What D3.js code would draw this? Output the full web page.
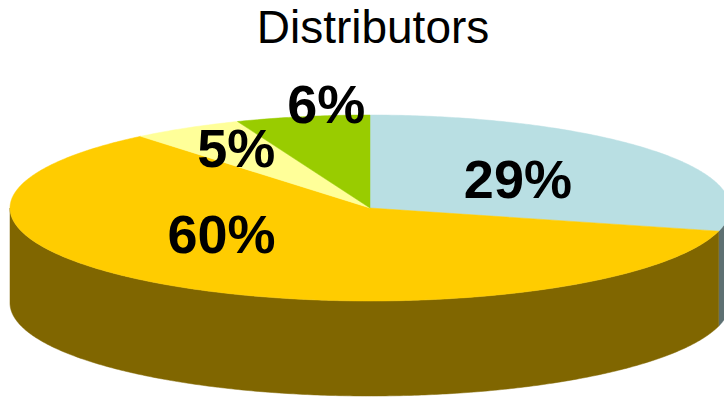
<!DOCTYPE html>
<html>
<head>
<meta charset="utf-8">
<script src="https://cdn.jsdelivr.net/npm/d3@7"></script>
<style>
  html, body { margin: 0; padding: 0; background: #ffffff; }
  svg { display: block; }
</style>
</head>
<body>
<svg id="chart" width="724" height="399"></svg>
<script>
// Share of distributors by group, clockwise from 12 o'clock
const categories = ["A", "B", "C", "D"];
const values = [29, 60, 5, 6];
const labels = ["29%", "60%", "5%", "6%"];
const colors = ["#b9dfe3", "#ffcc00", "#ffff99", "#99cc00"];
const title = "Distributors";

const cx = 370, cy = 208, rx = 360, ry = 93, depth = 95;

const svg = d3.select("#chart");

svg.append("text")
  .attr("x", 373).attr("y", 43)
  .attr("text-anchor", "middle")
  .attr("font-family", "Liberation Sans, Arial, sans-serif")
  .attr("font-size", 46)
  .attr("fill", "#000")
  .text(title);

const pie = d3.pie().sort(null).value(d => d)
  .startAngle(0).endAngle(2 * Math.PI);
const arcs = pie(values);

// point on the ellipse for an angle measured clockwise from 12 o'clock
const pt = (a, dy = 0) => [cx + rx * Math.sin(a), cy - ry * Math.cos(a) + dy];

function edge(a0, a1, dy) {
  const n = Math.max(2, Math.ceil(Math.abs(a1 - a0) / 0.01));
  return d3.range(n + 1).map(i => pt(a0 + (a1 - a0) * i / n, dy));
}

// wall shade: half the brightness of the top face
function shade(c) {
  const r = d3.rgb(c);
  return d3.rgb(r.r * 0.5, r.g * 0.5, r.b * 0.5).formatHex();
}

const line = d3.line();

// side walls: only the front half (PI/2 .. 3PI/2) is visible
const g = svg.append("g");
arcs.forEach((d, i) => {
  const a0 = Math.max(d.startAngle, Math.PI / 2);
  const a1 = Math.min(d.endAngle, 3 * Math.PI / 2);
  if (a1 <= a0) return;
  const pts = edge(a0, a1, 0).concat(edge(a1, a0, depth));
  g.append("path")
    .attr("d", line(pts) + "Z")
    .attr("fill", shade(colors[i]))
    .attr("stroke", shade(colors[i]))
    .attr("stroke-width", 0.5);
});

// top faces
arcs.forEach((d, i) => {
  const pts = [[cx, cy]].concat(edge(d.startAngle, d.endAngle, 0));
  g.append("path")
    .attr("d", line(pts) + "Z")
    .attr("fill", colors[i])
    .attr("stroke", colors[i])
    .attr("stroke-width", 0.5);
});

// label placement, as fractions of the radii along each slice's mid-angle
const labelPlace = [[0.52, 0.52], [0.77, 0.32], [0.73, 0.75], [0.65, 1.14]];
arcs.forEach((d, i) => {
  const m = (d.startAngle + d.endAngle) / 2;
  const [kx, ky] = labelPlace[i];
  const x = cx + rx * kx * Math.sin(m);
  const y = cy - ry * ky * Math.cos(m);
  g.append("text")
    .attr("x", x).attr("y", y)
    .attr("dy", "0.36em")
    .attr("text-anchor", "middle")
    .attr("font-family", "Liberation Sans, Arial, sans-serif")
    .attr("font-weight", "bold")
    .attr("font-size", 54)
    .attr("fill", "#000")
    .text(labels[i]);
});
</script>
</body>
</html>
